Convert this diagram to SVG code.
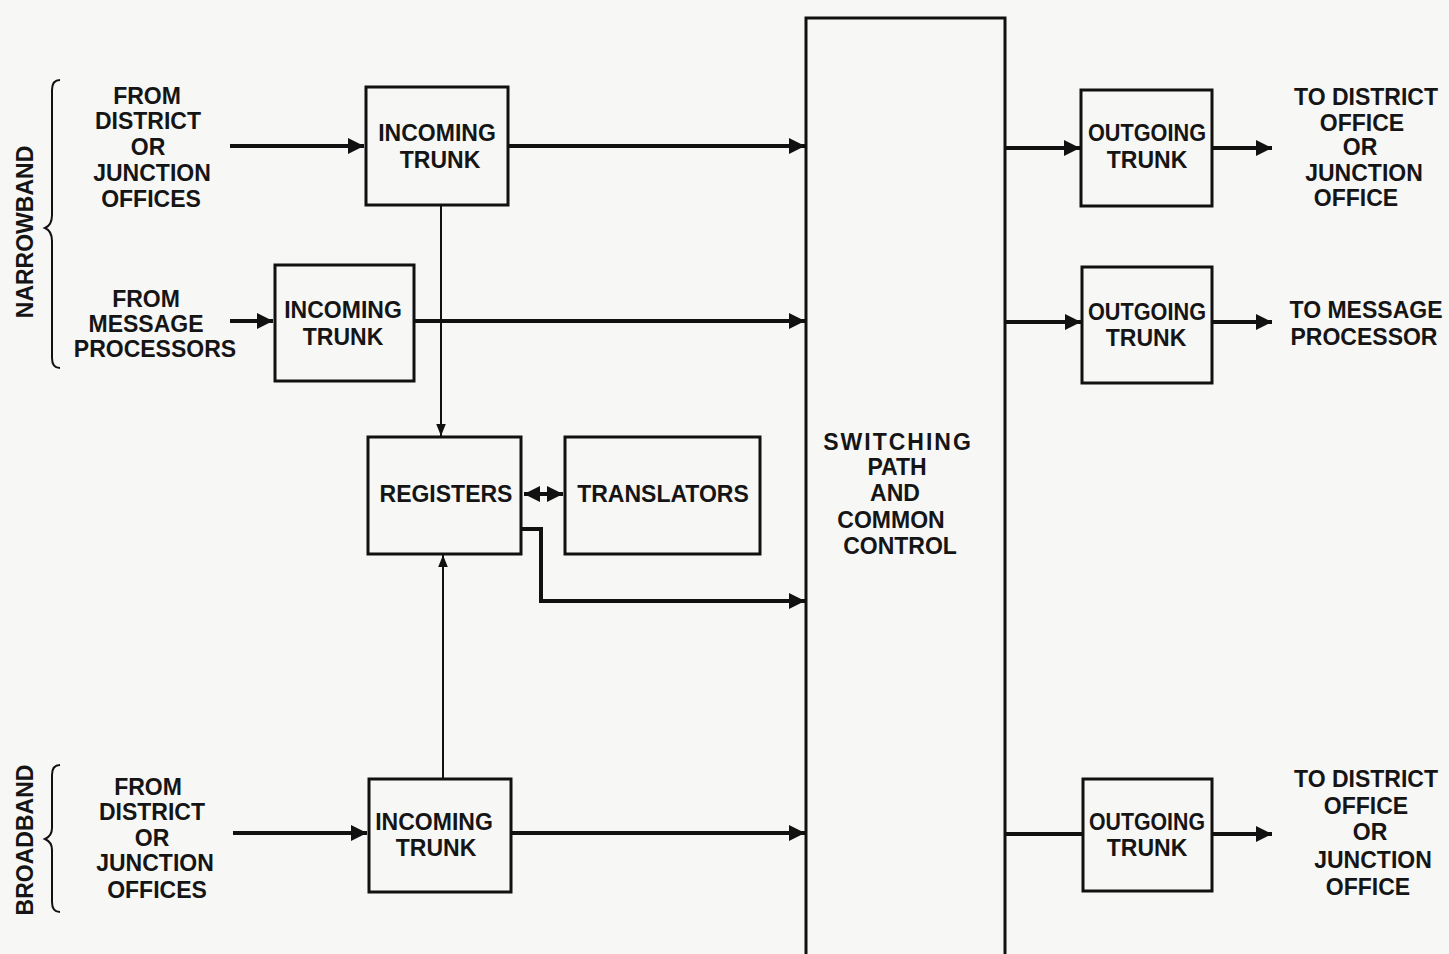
<svg xmlns="http://www.w3.org/2000/svg" width="1449" height="954" viewBox="0 0 1449 954">
<style>
.bg{fill:#f7f7f5}
.box{fill:none;stroke:#111;stroke-width:3}
.ln{fill:none;stroke:#111;stroke-width:4}
.thin{fill:none;stroke:#111;stroke-width:2}
.br{fill:none;stroke:#111;stroke-width:2}
text{font-family:"Liberation Sans",Arial,sans-serif;font-weight:bold;font-size:23px;fill:#151515;text-anchor:middle;dominant-baseline:central}
</style>
<defs>
<marker id="ah" viewBox="0 0 10 10" refX="10" refY="5" markerWidth="4" markerHeight="4" markerUnits="strokeWidth" orient="auto">
<path d="M0,0 L10,5 L0,10 z" fill="#111"/>
</marker>
<marker id="ahs" viewBox="0 0 10 10" refX="10" refY="5" markerWidth="6" markerHeight="6" markerUnits="strokeWidth" orient="auto">
<path d="M0,1 L10,5 L0,9 z" fill="#111"/>
</marker>
<marker id="ahb" viewBox="0 0 10 10" refX="0" refY="5" markerWidth="4" markerHeight="4" markerUnits="strokeWidth" orient="auto">
<path d="M10,0 L0,5 L10,10 z" fill="#111"/>
</marker>
</defs>
<rect class="bg" x="0" y="0" width="1449" height="954"/>

<g id="connectors">
<line class="ln" x1="230" y1="146" x2="364" y2="146" marker-end="url(#ah)"/>
<line class="ln" x1="508" y1="146" x2="805" y2="146" marker-end="url(#ah)"/>
<line class="ln" x1="230" y1="321" x2="273" y2="321" marker-end="url(#ah)"/>
<line class="ln" x1="414" y1="321" x2="805" y2="321" marker-end="url(#ah)"/>
<line class="thin" x1="441" y1="205" x2="441" y2="436" marker-end="url(#ahs)"/>
<line class="thin" x1="443" y1="779" x2="443" y2="555" marker-end="url(#ahs)"/>
<line class="ln" x1="524" y1="494" x2="563" y2="494" marker-start="url(#ahb)" marker-end="url(#ah)"/>
<polyline class="ln" points="521,529 541,529 541,601 805,601" marker-end="url(#ah)"/>
<line class="ln" x1="233" y1="833" x2="367" y2="833" marker-end="url(#ah)"/>
<line class="ln" x1="511" y1="833" x2="805" y2="833" marker-end="url(#ah)"/>
<line class="ln" x1="1005" y1="148" x2="1080" y2="148" marker-end="url(#ah)"/>
<line class="ln" x1="1212" y1="148" x2="1272" y2="148" marker-end="url(#ah)"/>
<line class="ln" x1="1005" y1="322" x2="1081" y2="322" marker-end="url(#ah)"/>
<line class="ln" x1="1212" y1="322" x2="1272" y2="322" marker-end="url(#ah)"/>
<line class="ln" x1="1005" y1="834" x2="1083" y2="834"/>
<line class="ln" x1="1212" y1="834" x2="1272" y2="834" marker-end="url(#ah)"/>
</g>

<g id="narrowband">
<path class="br" d="M60,80 Q52,80 52,90 L52,215 Q52,225 45,228 Q52,231 52,241 L52,358 Q52,368 60,368"/>
<text transform="translate(25,232) rotate(-90)">NARROWBAND</text>
</g>
<g id="broadband">
<path class="br" d="M60,765 Q52,765 52,775 L52,828 Q52,836 45,839 Q52,842 52,850 L52,902 Q52,912 60,912"/>
<text transform="translate(25,840) rotate(-90)">BROADBAND</text>
</g>

<g id="src1">
<text x="147" y="96">FROM</text>
<text x="148" y="121">DISTRICT</text>
<text x="148" y="147">OR</text>
<text x="152" y="173">JUNCTION</text>
<text x="151" y="199">OFFICES</text>
</g>
<g id="src2">
<text x="146" y="299">FROM</text>
<text x="146" y="324">MESSAGE</text>
<text x="155" y="349">PROCESSORS</text>
</g>
<g id="src3">
<text x="148" y="787">FROM</text>
<text x="152" y="812">DISTRICT</text>
<text x="152" y="838">OR</text>
<text x="155" y="863">JUNCTION</text>
<text x="157" y="890">OFFICES</text>
</g>

<g id="in1">
<rect class="box" x="366" y="87" width="142" height="118"/>
<text x="437" y="133">INCOMING</text>
<text x="440" y="160">TRUNK</text>
</g>
<g id="in2">
<rect class="box" x="275" y="265" width="139" height="116"/>
<text x="343" y="310">INCOMING</text>
<text x="343" y="337">TRUNK</text>
</g>
<g id="registers">
<rect class="box" x="368" y="437" width="153" height="117"/>
<text x="446" y="494">REGISTERS</text>
</g>
<g id="translators">
<rect class="box" x="565" y="437" width="195" height="117"/>
<text x="663" y="494">TRANSLATORS</text>
</g>
<g id="in3">
<rect class="box" x="369" y="779" width="142" height="113"/>
<text x="434" y="822">INCOMING</text>
<text x="436" y="848">TRUNK</text>
</g>

<g id="switch">
<rect class="box" x="806" y="18" width="199" height="950"/>
<text x="898" y="442" letter-spacing="2">SWITCHING</text>
<text x="897" y="467">PATH</text>
<text x="895" y="493">AND</text>
<text x="891" y="520">COMMON</text>
<text x="900" y="546">CONTROL</text>
</g>

<g id="out1">
<rect class="box" x="1081" y="90" width="131" height="116"/>
<text x="1147" y="133" textLength="118" lengthAdjust="spacingAndGlyphs">OUTGOING</text>
<text x="1147" y="160">TRUNK</text>
</g>
<g id="out2">
<rect class="box" x="1082" y="267" width="130" height="116"/>
<text x="1147" y="312" textLength="118" lengthAdjust="spacingAndGlyphs">OUTGOING</text>
<text x="1146" y="338">TRUNK</text>
</g>
<g id="out3">
<rect class="box" x="1083" y="779" width="129" height="112"/>
<text x="1147" y="822" textLength="116" lengthAdjust="spacingAndGlyphs">OUTGOING</text>
<text x="1147" y="848">TRUNK</text>
</g>

<g id="dst1">
<text x="1366" y="97">TO DISTRICT</text>
<text x="1362" y="123">OFFICE</text>
<text x="1360" y="147">OR</text>
<text x="1364" y="173">JUNCTION</text>
<text x="1356" y="198">OFFICE</text>
</g>
<g id="dst2">
<text x="1366" y="310">TO MESSAGE</text>
<text x="1364" y="337">PROCESSOR</text>
</g>
<g id="dst3">
<text x="1366" y="779">TO DISTRICT</text>
<text x="1366" y="806">OFFICE</text>
<text x="1370" y="832">OR</text>
<text x="1373" y="860">JUNCTION</text>
<text x="1368" y="887">OFFICE</text>
</g>
</svg>
